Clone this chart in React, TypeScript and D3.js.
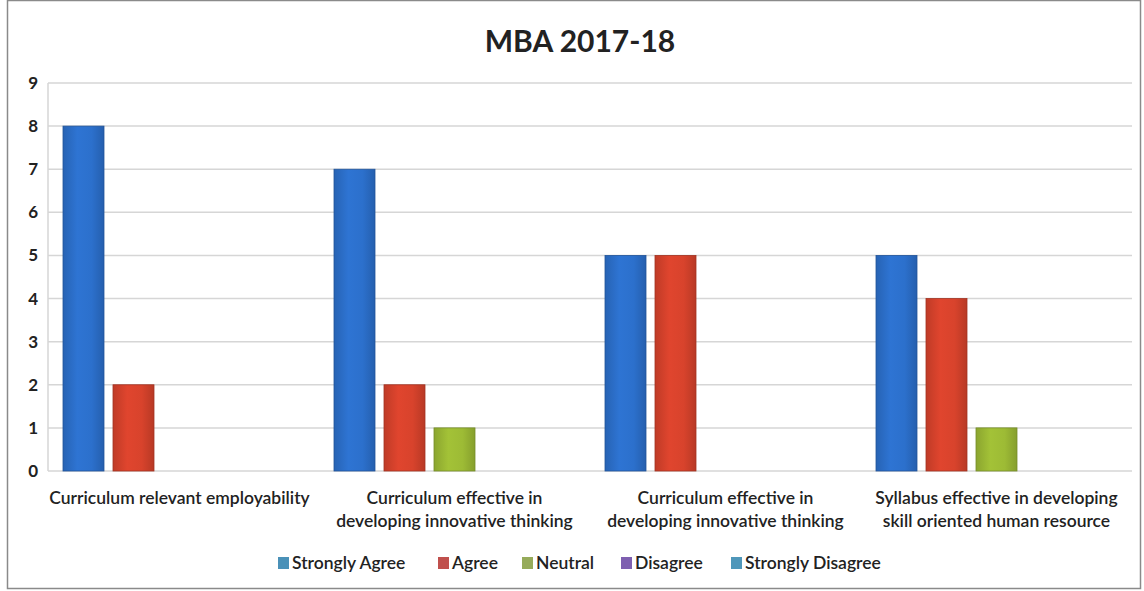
import React from "react";
import * as d3 from "d3";

const categories: string[][] = [
  ["Curriculum relevant employability"],
  ["Curriculum effective in", "developing innovative thinking"],
  ["Curriculum effective in", "developing innovative thinking"],
  ["Syllabus effective in developing", "skill oriented human resource"],
];
const seriesNames = ["Strongly Agree", "Agree", "Neutral", "Disagree", "Strongly Disagree"];
const stronglyAgree = [8, 7, 5, 5];
const agree = [2, 2, 5, 4];
const neutral = [0, 1, 0, 1];
const disagree = [0, 0, 0, 0];
const stronglyDisagree = [0, 0, 0, 0];
const yTicks = [0, 1, 2, 3, 4, 5, 6, 7, 8, 9];

const seriesValues = [stronglyAgree, agree, neutral, disagree, stronglyDisagree];
const barColors = ["#2c70cc", "#d8432c", "#9dbb35", "#7f5fb0", "#3fa6c8"];
const legendColors = ["#4a91b8", "#c0504d", "#96ab5a", "#7e5fb0", "#4f97ba"];

const W = 1144;
const H = 591;
const left = 48;
const right = 1132;
const top = 83;
const bottom = 471;
const FONT = "Lato, 'Open Sans', 'Noto Sans', sans-serif";

export default function App() {
  const x0 = d3
    .scaleBand<number>()
    .domain(categories.map((_, i) => i))
    .range([left, right])
    .paddingInner(0)
    .paddingOuter(0);
  const x1 = d3
    .scaleBand<number>()
    .domain(seriesNames.map((_, i) => i))
    .range([15, x0.bandwidth() - 15])
    .paddingInner(0.18)
    .paddingOuter(0);
  const y = d3.scaleLinear().domain([0, 9]).range([bottom, top]);

  const legendX = [278, 438, 522, 621, 731];

  return (
    <svg width={W} height={H} style={{ position: "absolute", left: 0, top: 0, background: "#fff" }}>
      <defs>
        {barColors.map((c, i) => (
          <linearGradient key={i} id={`g${i}`} x1="0" x2="1" y1="0" y2="0">
            <stop offset="0" stopColor={d3.color(c)!.darker(0.35).toString()} />
            <stop offset="0.35" stopColor={d3.color(c)!.brighter(0.1).toString()} />
            <stop offset="0.7" stopColor={c} />
            <stop offset="1" stopColor={d3.color(c)!.darker(0.45).toString()} />
          </linearGradient>
        ))}
      </defs>
      <rect x={0} y={0} width={W} height={H} fill="#fff" />
      <rect x={7.5} y={0.5} width={1133} height={588} fill="none" stroke="#8a8a8a" strokeWidth={1.5} />
      <text
        x={580}
        y={52}
        textAnchor="middle"
        fontFamily={FONT}
        fontWeight="bold"
        fontSize={30}
        fill="#222"
      >
        MBA 2017-18
      </text>
      {yTicks.map((t) => (
        <g key={t}>
          <line x1={left} x2={right} y1={y(t)} y2={y(t)} stroke="#d6d6d6" strokeWidth={1.5} />
          <text
            x={38}
            y={y(t) + 6}
            textAnchor="end"
            fontFamily={FONT}
            fontWeight="bold"
            fontSize={17}
            fill="#222"
          >
            {t}
          </text>
        </g>
      ))}
      <line x1={left} x2={left} y1={top} y2={bottom} stroke="#d6d6d6" strokeWidth={1.5} />
      {categories.map((_, ci) =>
        seriesValues.map((vals, si) =>
          vals[ci] > 0 ? (
            <rect
              key={`${ci}-${si}`}
              x={(x0(ci) as number) + (x1(si) as number)}
              y={y(vals[ci])}
              width={x1.bandwidth()}
              height={y(0) - y(vals[ci])}
              fill={`url(#g${si})`}
              stroke={d3.color(barColors[si])!.darker(0.8).toString()}
              strokeWidth={0.8}
            />
          ) : null
        )
      )}
      {categories.map((lines, ci) =>
        lines.map((ln, li) => (
          <text
            key={`${ci}-${li}`}
            x={(x0(ci) as number) + x0.bandwidth() / 2 + (ci === 0 ? -4 : 0)}
            y={504 + li * 23}
            textAnchor="middle"
            fontFamily={FONT}
            fontWeight={600}
            fontSize={17.5}
            fill="#222"
          >
            {ln}
          </text>
        ))
      )}
      {seriesNames.map((s, i) => (
        <g key={s}>
          <rect x={legendX[i]} y={557} width={11} height={12} fill={legendColors[i]} />
          <text
            x={legendX[i] + 14}
            y={569}
            fontFamily={FONT}
            fontWeight={600}
            fontSize={17.5}
            fill="#222"
          >
            {s}
          </text>
        </g>
      ))}
    </svg>
  );
}
